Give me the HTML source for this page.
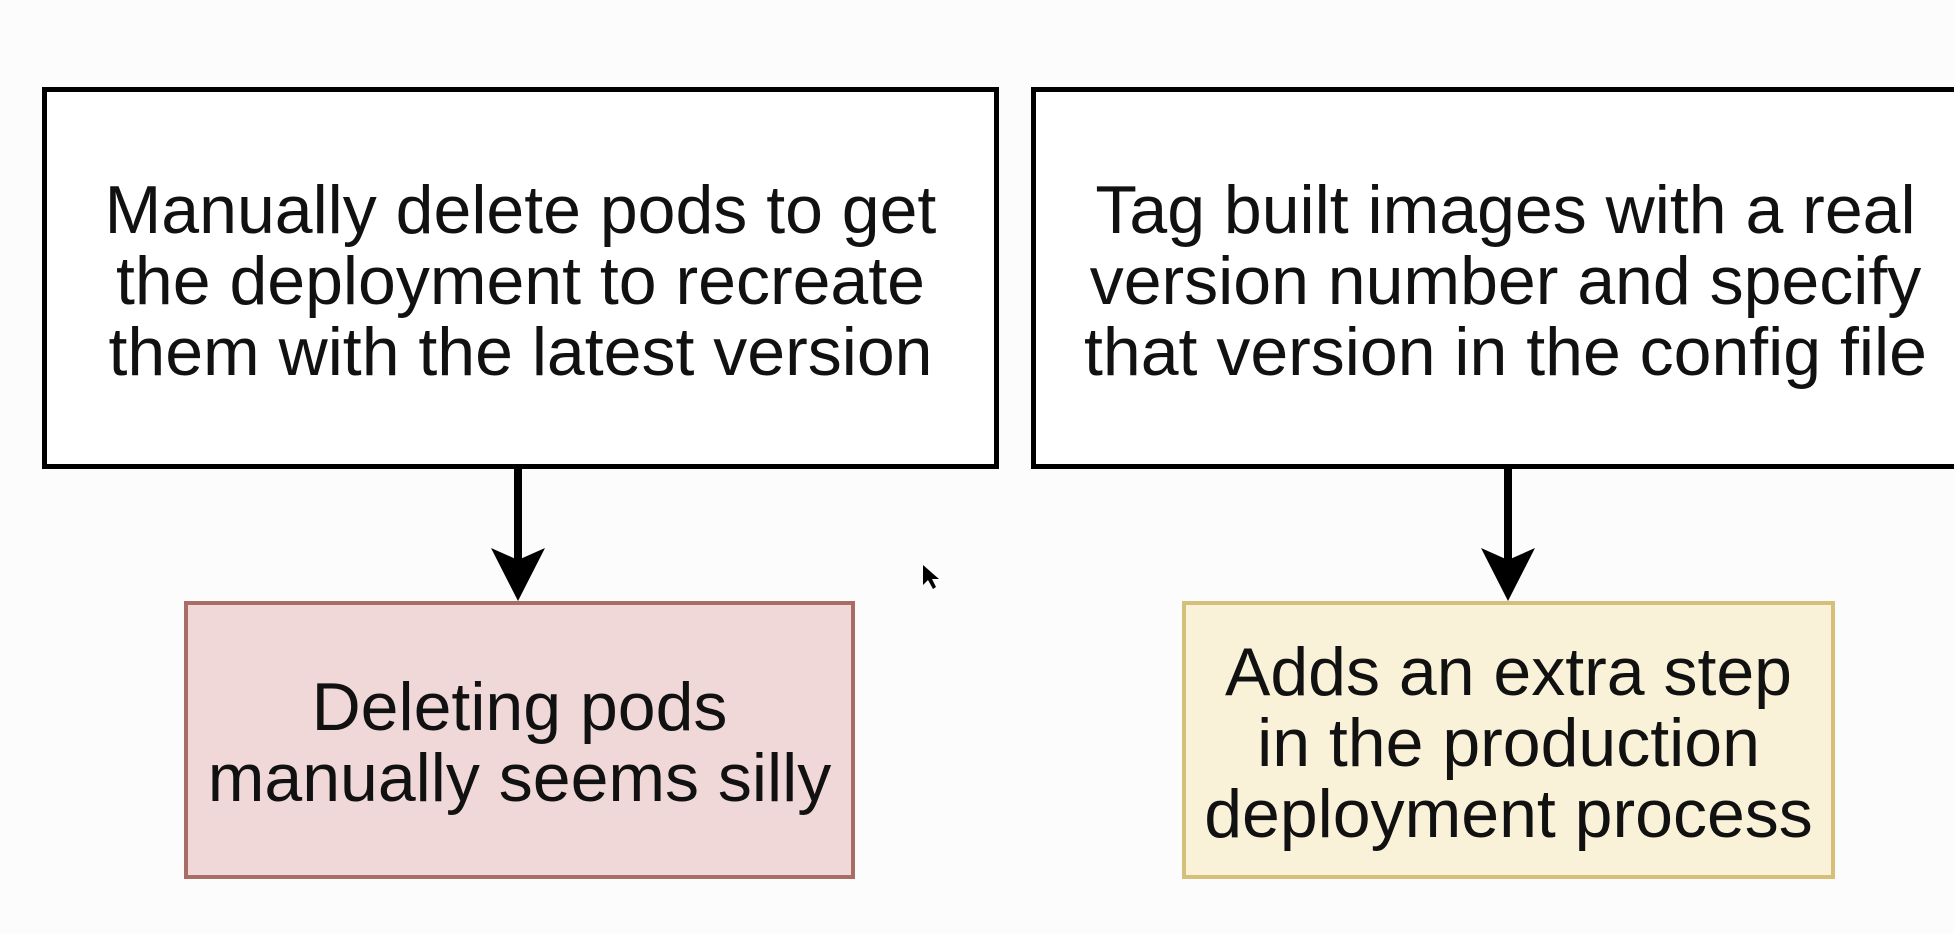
<!DOCTYPE html>
<html><head><meta charset="utf-8"><style>
html,body{margin:0;padding:0;width:1954px;height:934px;overflow:hidden;background:#fcfcfc;font-family:"Liberation Sans",Arial,sans-serif}
.b{position:absolute;box-sizing:border-box;display:flex;align-items:center;justify-content:center;text-align:center;color:#111;font-size:68px;line-height:71px;white-space:nowrap}
</style></head><body>
<div class="b" style="left:42px;top:87px;width:957px;height:382px;border:5px solid #000;background:#fff;padding-top:6px">Manually delete pods to get<br>the deployment to recreate<br>them with the latest version</div>
<div class="b" style="left:1031px;top:87px;width:940px;height:382px;border:5px solid #000;background:#fff;justify-content:flex-start;padding-left:48px;padding-top:6px">Tag built images with a real<br>version number and specify<br>that version in the config file</div>
<div class="b" style="left:184px;top:601px;width:671px;height:278px;border:4px solid #a86e66;background:#f0d8d8;padding-top:6px">Deleting pods<br>manually seems silly</div>
<div class="b" style="left:1182px;top:601px;width:653px;height:278px;border:4px solid #d6bf78;background:#faf2d8;padding-top:6px">Adds an extra step<br>in the production<br>deployment process</div>
<svg width="1954" height="934" style="position:absolute;left:0;top:0">
<line x1="518" y1="468" x2="518" y2="560" stroke="#000" stroke-width="8"/>
<polygon points="491,548 518,560 545,548 518,601" fill="#000"/>
<line x1="1508" y1="468" x2="1508" y2="560" stroke="#000" stroke-width="8"/>
<polygon points="1481,548 1508,560 1535,548 1508,601" fill="#000"/>
<polygon points="923,565 923,585 928,580 933,589 936,587 932,579 939,579" fill="#000"/>
</svg>
</body></html>
